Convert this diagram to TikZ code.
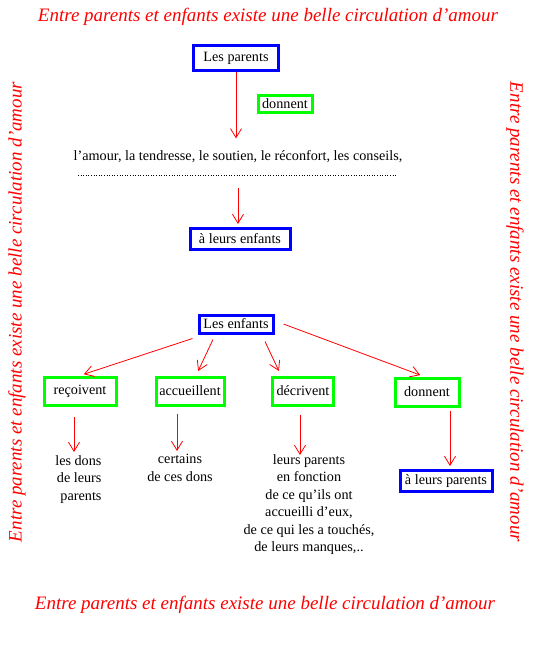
\documentclass[tikz,border=0pt]{standalone}
\usepackage{fontspec}
\setmainfont{Liberation Serif}
\usetikzlibrary{
		arrows.meta
	}
\tikzset{
		>={Straight Barb[length=9pt,width=11pt]},
		flow/.style={->, red, line width=0.8pt},
		whobox/.style={draw=blue, line width=3pt, inner sep=0pt},
		verbbox/.style={draw=green, line width=3pt, inner sep=0pt},
		body/.style={font=\fontsize{14.2}{17.5}\selectfont},
		motto/.style={red, font=\fontsize{19}{22}\selectfont\itshape}
	}

\begin{document}
\begin{tikzpicture}[x=1pt,y=-1pt]
        \useasboundingbox (0,0) rectangle (535,646);

        % the motto all round the page
        \node[motto] (mottotop) at (268,17) {Entre parents et enfants existe une belle circulation d'amour};
        \node[motto] (mottobottom) at (265,605) {Entre parents et enfants existe une belle circulation d'amour};
        \node[motto, rotate=90] (mottoleft) at (17,312) {Entre parents et enfants existe une belle circulation d'amour};
        \node[motto, rotate=-90] (mottoright) at (515,312) {Entre parents et enfants existe une belle circulation d'amour};

        % the upper part: what the parents give
        \node[whobox, body, minimum width=85pt, minimum height=25pt] (lesparents) at (236,58) {Les parents};
        \node[verbbox, body, minimum width=54pt, minimum height=17pt] (donnent) at (285,104) {donnent};
        \node[body] (liste) at (238,157) {l'amour, la tendresse, le soutien, le réconfort, les conseils,};
        \coordinate (dotsL) at (78,175);
        \coordinate (dotsR) at (396,175);
        \coordinate (dots) at (238,175);
        \node[whobox, body, minimum width=100pt, minimum height=21pt] (aleursenfants) at (240,239) {à leurs enfants};

        \draw[line width=0.6pt, dotted] (dotsL) -- (dotsR);

        \draw[flow, shorten >=9pt] (lesparents.south) -- (lesparents.south |- liste.north);
        \draw[flow, shorten <=13pt, shorten >=3pt] (dots) -- (dots |- aleursenfants.north);

        % the lower part: what the children do
        \node[whobox, body, minimum width=74pt, minimum height=18pt] (lesenfants) at (236,324) {Les enfants};
        \node[verbbox, body, minimum width=72pt, minimum height=28pt] (recoivent) at (80,391) {reçoivent};
        \node[verbbox, body, minimum width=68pt, minimum height=28pt] (accueillent) at (190,391) {accueillent};
        \node[verbbox, body, minimum width=61pt, minimum height=28pt] (decrivent) at (303,391) {décrivent};
        \node[verbbox, body, minimum width=64pt, minimum height=28pt] (donnentbis) at (427,392) {donnent};

        \node[body, align=right, anchor=north east] (lesdons) at (105,452) {les dons\\de leurs\\parents};
        \node[body, align=center, anchor=north] (certains) at (180,451) {certains\\de ces dons};
        \node[body, align=center, anchor=north] (leursparents) at (309,451) {leurs parents\\en fonction\\de ce qu'ils ont\\accueilli d'eux,\\de ce qui les a touchés,\\de leurs manques,..};
        \node[whobox, body, minimum width=92pt, minimum height=21pt] (aleursparents) at (446,481) {à leurs parents};

        % draw the arrows
        \draw[flow, shorten >=4pt] ([xshift=-5pt,yshift=-4pt]lesenfants.south west) -- (recoivent.north);
        \draw[flow, shorten >=5pt] ([xshift=-23pt,yshift=-5pt]lesenfants.south) -- ([xshift=6pt]accueillent.north);
        \draw[flow, shorten >=5pt] ([xshift=29pt,yshift=-7pt]lesenfants.south) -- ([xshift=-22pt]decrivent.north);
        \draw[flow, shorten >=4pt] ([xshift=9pt]lesenfants.east) -- ([xshift=-3pt]donnentbis.north);

        \draw[flow, shorten <=10pt] ([xshift=-6pt]recoivent.south) -- ([xshift=-6pt]recoivent.south |- lesdons.north);
        \draw[flow, shorten <=7pt] ([xshift=-13pt]accueillent.south) -- ([xshift=-13pt]accueillent.south |- certains.north);
        \draw[flow, shorten <=8pt, shorten >=-4pt] ([xshift=-3pt]decrivent.south) -- ([xshift=-3pt]decrivent.south |- leursparents.north);
        \draw[flow, shorten <=3pt, shorten >=3pt] ([xshift=23pt]donnentbis.south) -- ([xshift=23pt]donnentbis.south |- aleursparents.north);

    \end{tikzpicture}
\end{document}
